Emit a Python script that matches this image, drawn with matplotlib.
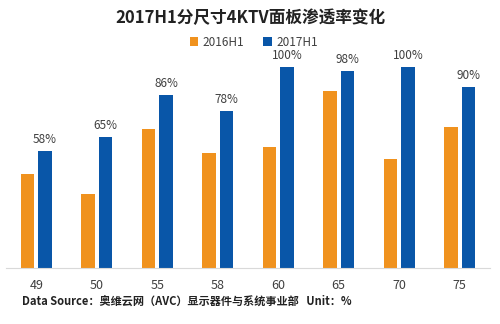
import matplotlib
matplotlib.use("Agg")
import matplotlib.pyplot as plt
import numpy as np

plt.rcParams['font.family'] = ['Noto Sans CJK SC', 'DejaVu Sans']

sizes = ["49", "50", "55", "58", "60", "65", "70", "75"]
h1_2016 = [47, 37, 69, 57, 60, 88, 54, 70]
h1_2017 = [58, 65, 86, 78, 100, 98, 100, 90]

orange = "#F0921E"
blue = "#0956A8"
text_col = "#404040"

fig = plt.figure(figsize=(5, 3.24), dpi=100)
ax = fig.add_axes([0.012, 1 - 268 / 324, 0.968, (268 - 47) / 324])

x = np.arange(len(sizes))
w = 0.23
ax.bar(x - 0.145, h1_2016, w, color=orange, label="2016H1")
bars = ax.bar(x + 0.145, h1_2017, w, color=blue, label="2017H1")

# percentage labels over the 2017 bars
for b, v in zip(bars, h1_2017):
    ax.text(b.get_x() + b.get_width() / 2, v + 2.5, f"{v}%", ha="center", va="bottom",
            fontsize=8.5, color=text_col)

ax.set_xlim(-0.5, 7.5)
ax.set_ylim(0, 100 * 221 / 201)
ax.set_xticks(x)
ax.set_xticklabels(sizes, fontsize=9, color=text_col)
ax.tick_params(axis="x", length=0, pad=8)
ax.set_yticks([])
for s in ["top", "right", "left"]:
    ax.spines[s].set_visible(False)
ax.spines["bottom"].set_color("#D9D9D9")

fig.text(0.5, 1 - 18 / 324, "2017H1分尺寸4KTV面板渗透率变化", ha="center", va="center",
         fontsize=12, fontweight="bold", color="#222222")

fig.legend(loc="center", bbox_to_anchor=(0.508, 1 - 42 / 324), ncol=2, frameon=False,
           fontsize=8.5, handlelength=0.7, handleheight=0.7, handletextpad=0.4,
           columnspacing=1.6, labelcolor=text_col)

fig.text(22 / 500, 1 - 301 / 324, "Data Source：奥维云网（AVC）显示器件与系统事业部   Unit：%",
         ha="left", va="center", fontsize=8, fontweight="bold", color="#222222")

fig.savefig("out.png", dpi=100)
